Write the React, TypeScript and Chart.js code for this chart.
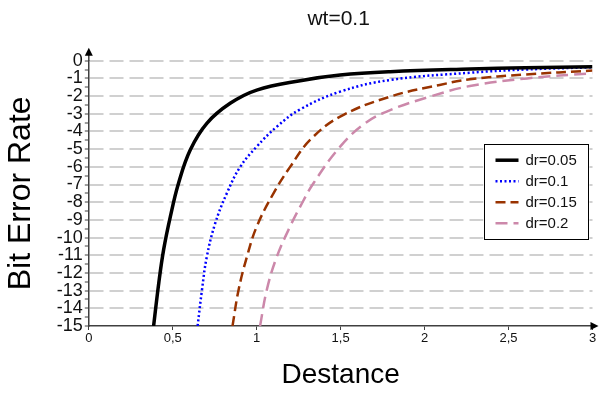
import React, { useEffect, useRef } from "react";
import { Chart, registerables } from "chart.js";

Chart.register(...registerables);

const FONT = "'Liberation Sans', Arial, sans-serif";

const titleText = "wt=0.1";
const xTitle = "Destance";
const yTitle = "Bit Error Rate";

const xTickLabels = ["0", "0,5", "1", "1,5", "2", "2,5", "3"];
const yTickLabels = ["0", "-1", "-2", "-3", "-4", "-5", "-6", "-7", "-8", "-9", "-10", "-11", "-12", "-13", "-14", "-15"];

const seriesNames = ["dr=0.05", "dr=0.1", "dr=0.15", "dr=0.2"];

const dr005X = [0.386, 0.417, 0.446, 0.486, 0.534, 0.604, 0.703, 0.842, 1.0, 1.259, 1.497, 1.795, 2.27, 2.6, 3.0];
const dr005Y = [-15, -12.55, -10.67, -8.8, -6.94, -5.05, -3.54, -2.41, -1.66, -1.13, -0.81, -0.62, -0.47, -0.4, -0.34];

const dr01X = [0.648, 0.674, 0.703, 0.753, 0.822, 0.902, 1.0, 1.12, 1.259, 1.497, 1.795, 2.27, 2.6, 3.0];
const dr01Y = [-15, -12.96, -11.08, -9.19, -7.5, -6.0, -4.86, -3.73, -2.75, -1.75, -1.09, -0.68, -0.5, -0.37];

const dr015X = [0.856, 0.892, 0.942, 1.0, 1.1, 1.2, 1.318, 1.497, 1.795, 2.09, 2.27, 2.6, 3.0];
const dr015Y = [-15, -12.96, -11.08, -9.38, -7.5, -5.99, -4.48, -3.16, -2.03, -1.37, -1.05, -0.78, -0.56];

const dr02X = [1.02, 1.06, 1.12, 1.2, 1.259, 1.338, 1.497, 1.646, 1.795, 2.033, 2.27, 2.61, 3.0];
const dr02Y = [-15, -12.96, -11.08, -9.35, -8.25, -6.93, -4.86, -3.54, -2.79, -2.03, -1.43, -1.0, -0.71];

const toPts = (xs: number[], ys: number[]) => xs.map((x, i) => ({ x, y: ys[i] }));

const AXIS_COLOR = "#404040";

const titlePlugin = {
  id: "areaTitle",
  afterDraw(chart: any) {
    const { ctx, chartArea } = chart;
    ctx.save();
    ctx.fillStyle = "#111";
    ctx.font = `21px ${FONT}`;
    ctx.textAlign = "center";
    ctx.textBaseline = "middle";
    ctx.fillText(titleText, (chartArea.left + chartArea.right) / 2 - 2, 19.5);
    ctx.restore();
  },
};

const arrowsPlugin = {
  id: "axisArrows",
  afterDraw(chart: any) {
    const { ctx, chartArea } = chart;
    const { left, right, top, bottom } = chartArea;
    ctx.save();
    ctx.strokeStyle = AXIS_COLOR;
    ctx.fillStyle = "#000";
    ctx.lineWidth = 1.5;
    ctx.beginPath();
    ctx.moveTo(left, top);
    ctx.lineTo(left, top - 8);
    ctx.stroke();
    ctx.beginPath();
    ctx.moveTo(left, top - 13);
    ctx.lineTo(left - 4, top - 5);
    ctx.lineTo(left + 4, top - 5);
    ctx.closePath();
    ctx.fill();
    ctx.beginPath();
    ctx.moveTo(right, bottom);
    ctx.lineTo(right + 1, bottom);
    ctx.stroke();
    ctx.beginPath();
    ctx.moveTo(right + 6, bottom);
    ctx.lineTo(right - 2, bottom - 4);
    ctx.lineTo(right - 2, bottom + 4);
    ctx.closePath();
    ctx.fill();
    ctx.restore();
  },
};

const legendPlugin = {
  id: "boxLegend",
  afterDraw(chart: any) {
    const { ctx, chartArea } = chart;
    const boxR = chartArea.right - 5;
    const boxL = boxR - 104;
    const boxT = chartArea.top + 83.5;
    const boxH = 95;
    ctx.save();
    ctx.fillStyle = "#fff";
    ctx.fillRect(boxL, boxT, boxR - boxL, boxH);
    ctx.strokeStyle = "#000";
    ctx.lineWidth = 1;
    ctx.strokeRect(Math.round(boxL) + 0.5, Math.round(boxT) + 0.5, Math.round(boxR - boxL), boxH);
    chart.data.datasets.forEach((ds: any, i: number) => {
      const y = boxT + 16 + i * 21;
      ctx.save();
      ctx.strokeStyle = ds.borderColor;
      ctx.lineWidth = ds.borderWidth;
      ctx.setLineDash(ds.borderDash || []);
      ctx.beginPath();
      ctx.moveTo(boxL + 12, y);
      ctx.lineTo(boxL + 35, y);
      ctx.stroke();
      ctx.restore();
      ctx.fillStyle = "#111";
      ctx.font = `15px ${FONT}`;
      ctx.textBaseline = "middle";
      ctx.textAlign = "left";
      ctx.fillText(ds.label, boxL + 42, y + 0.5);
    });
    ctx.restore();
  },
};

export default function App() {
  const ref = useRef<HTMLCanvasElement>(null);
  useEffect(() => {
    if (!ref.current) return;
    Chart.defaults.font.family = FONT;
    const common = { pointRadius: 0, tension: 0.4, fill: false };
    const chart = new Chart(ref.current, {
      type: "line",
      data: {
        datasets: [
          {
            ...common,
            label: seriesNames[0],
            data: toPts(dr005X, dr005Y),
            borderColor: "#000000",
            borderWidth: 3.5,
            borderDash: [],
          },
          {
            ...common,
            label: seriesNames[1],
            data: toPts(dr01X, dr01Y),
            borderColor: "#0000ff",
            borderWidth: 2.5,
            borderDash: [2, 2.5],
          },
          {
            ...common,
            label: seriesNames[2],
            data: toPts(dr015X, dr015Y),
            borderColor: "#993300",
            borderWidth: 2.5,
            borderDash: [10, 5],
          },
          {
            ...common,
            label: seriesNames[3],
            data: toPts(dr02X, dr02Y),
            borderColor: "#cc88aa",
            borderWidth: 2.5,
            borderDash: [12, 6],
          },
        ],
      },
      options: {
        responsive: false,
        animation: false,
        layout: { padding: { left: 0, right: 15.5, top: 60.7, bottom: 0 } },
        plugins: {
          legend: { display: false },
          tooltip: { enabled: false },
          title: { display: false },
        },
        scales: {
          x: {
            type: "linear",
            min: 0,
            max: 3,
            afterFit: (s: any) => {
              s.height = 68;
            },
            ticks: {
              stepSize: 0.5,
              autoSkip: false,
              maxRotation: 0,
              padding: 1,
              color: "#111",
              font: { size: 13, family: FONT },
              callback: (v: any) => xTickLabels[Math.round(Number(v) * 2)] ?? "",
            },
            grid: {
              drawOnChartArea: false,
              drawTicks: true,
              tickLength: 4,
              tickColor: AXIS_COLOR,
              tickWidth: 1,
            },
            border: { display: true, color: AXIS_COLOR, width: 1.5 },
            title: {
              display: true,
              text: xTitle,
              color: "#000",
              font: { size: 28, family: FONT },
              padding: { top: 0, bottom: 2 },
            },
          },
          y: {
            type: "linear",
            min: -15,
            max: 0,
            afterFit: (s: any) => {
              s.width = 88.8;
            },
            ticks: {
              stepSize: 0.5,
              autoSkip: false,
              padding: 2,
              color: "#111",
              font: { size: 18, family: FONT },
              callback: (v: any) => {
                const n = Number(v);
                return Number.isInteger(n) ? yTickLabels[-n] ?? "" : "";
              },
            },
            grid: {
              color: (c: any) => {
                const v = c.tick ? c.tick.value : 0;
                return Number.isInteger(v) && v > -15 ? "#d0d0d0" : "rgba(0,0,0,0)";
              },
              lineWidth: 2,
              drawTicks: true,
              tickLength: 4,
              tickColor: AXIS_COLOR,
              tickWidth: 1,
            },
            border: { display: true, color: AXIS_COLOR, width: 1.5, dash: [14, 6] },
            title: {
              display: true,
              text: yTitle,
              color: "#000",
              font: { size: 32, family: FONT },
              padding: { top: 2, bottom: 0 },
            },
          },
        },
      },
      plugins: [titlePlugin, arrowsPlugin, legendPlugin],
    });
    return () => chart.destroy();
  }, []);
  return (
    <div style={{ position: "fixed", left: 0, top: 0, width: 608, height: 394, background: "#fff" }}>
      <canvas ref={ref} width={608} height={394} style={{ display: "block" }} />
    </div>
  );
}
